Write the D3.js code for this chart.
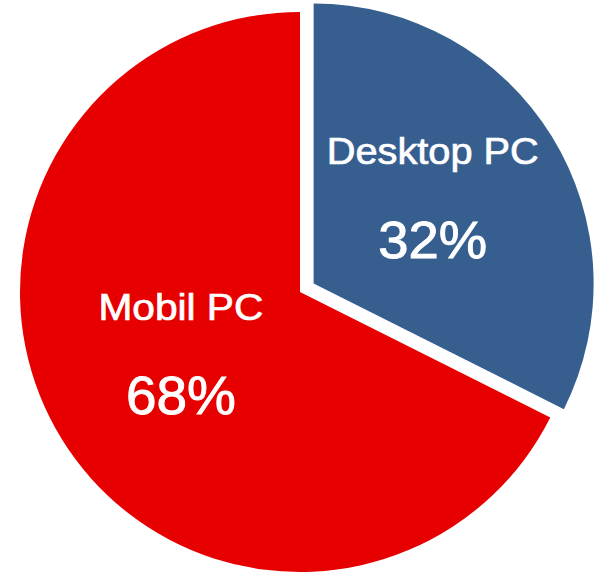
<!DOCTYPE html>
<html><head><meta charset="utf-8">
<script src="https://cdn.jsdelivr.net/npm/d3@7"></script>
<style>html,body{margin:0;padding:0;background:#fff;}svg{display:block;}</style>
</head><body>
<svg id="chart" width="609" height="576"></svg>
<script>
const categories = ["Desktop PC", "Mobil PC"];
const values = [32.4, 67.6];
const valueLabels = ["32%", "68%"];
const colors = ["#365F8F", "#E70000"];

const svg = d3.select("#chart");
const cx = 300, cy = 292, r = 280, explode = 16;
const pie = d3.pie().sort(null).value(d => d.v).startAngle(0);
const arcs = pie(categories.map((c, i) => ({c, v: values[i], lab: valueLabels[i], col: colors[i], ex: i === 0})));
const arc = d3.arc().innerRadius(0).outerRadius(r);
const labelArc = d3.arc().innerRadius(140).outerRadius(140);

const g = svg.append("g").attr("transform", `translate(${cx},${cy})`);
const slices = g.selectAll("g.slice").data(arcs).join("g")
  .attr("class", "slice")
  .attr("transform", d => {
    if (!d.data.ex) return null;
    const a = (d.startAngle + d.endAngle) / 2;
    return `translate(${explode * Math.sin(a)},${-explode * Math.cos(a)})`;
  });
slices.append("path").attr("d", arc).attr("fill", d => d.data.col);

const nameW = [212, 165], valW = [109, 110], valSize = [51, 53], nameSize = [37, 36];
slices.each(function(d, i) {
  const [x, y] = labelArc.centroid(d);
  const s = d3.select(this);
  s.append("text").attr("x", x).attr("y", y - 46)
    .attr("text-anchor", "middle").attr("fill", "#fff")
    .attr("stroke", "#fff").attr("stroke-width", 0.7)
    .attr("font-family", "'Liberation Sans', Arial, sans-serif")
    .attr("font-size", nameSize[i])
    .attr("textLength", nameW[i]).attr("lengthAdjust", "spacingAndGlyphs")
    .text(d.data.c);
  s.append("text").attr("x", x).attr("y", y + 48)
    .attr("text-anchor", "middle").attr("fill", "#fff")
    .attr("stroke", "#fff").attr("stroke-width", 0.9)
    .attr("font-family", "'Liberation Sans', Arial, sans-serif")
    .attr("font-size", valSize[i])
    .attr("textLength", valW[i]).attr("lengthAdjust", "spacingAndGlyphs")
    .text(d.data.lab);
});
</script>
</body></html>
